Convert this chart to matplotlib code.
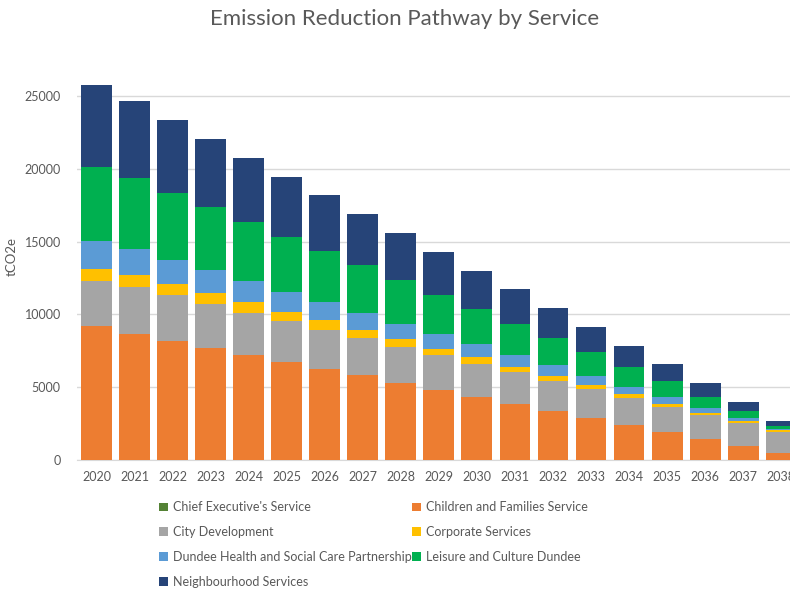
import matplotlib
matplotlib.use("Agg")
import matplotlib.pyplot as plt
import numpy as np

plt.rcParams['font.family'] = ['Lato', 'DejaVu Sans']

years = ['2020', '2021', '2022', '2023', '2024', '2025', '2026', '2027', '2028', '2029',
         '2030', '2031', '2032', '2033', '2034', '2035', '2036', '2037', '2038']

# segment sizes (tCO2e)
chief_exec = [0] * 19
children = [9180, 8680, 8170, 7690, 7230, 6750, 6250, 5810, 5290, 4810,
            4350, 3870, 3370, 2910, 2400, 1920, 1460, 960, 500]
city_dev = [3110, 3180, 3140, 3020, 2870, 2800, 2700, 2590, 2480, 2380,
            2260, 2200, 2080, 1950, 1860, 1720, 1630, 1560, 1440]
corporate = [850, 850, 750, 760, 730, 640, 640, 530, 530, 430,
             440, 320, 320, 290, 250, 230, 140, 140, 100]
dundee_hscp = [1880, 1780, 1680, 1580, 1460, 1370, 1280, 1170, 1050, 1060,
               890, 820, 730, 620, 520, 440, 340, 200, 110]
leisure = [5130, 4880, 4620, 4330, 4030, 3780, 3480, 3270, 3000, 2670,
           2430, 2150, 1900, 1630, 1380, 1100, 780, 510, 210]
neighbourhood = [5580, 5260, 4990, 4670, 4440, 4120, 3830, 3500, 3230, 2960,
                 2630, 2360, 2020, 1730, 1440, 1160, 940, 640, 340]

series = [
    ("Chief Executive's Service", chief_exec, '#548235'),
    ('Children and Families Service', children, '#ED7D31'),
    ('City Development', city_dev, '#A5A5A5'),
    ('Corporate Services', corporate, '#FFC000'),
    ('Dundee Health and Social Care Partnership', dundee_hscp, '#5B9BD5'),
    ('Leisure and Culture Dundee', leisure, '#00B050'),
    ('Neighbourhood Services', neighbourhood, '#264478'),
]

fig = plt.figure(figsize=(7.9, 5.89), dpi=100)
ax = fig.add_axes([0.098, 0.219, 0.915, 0.692])

x = np.arange(len(years))
bottom = np.zeros(len(years))
handles = {}
for name, vals, col in series:
    vals = np.array(vals, dtype=float)
    b = ax.bar(x, vals, 0.81, bottom=bottom, color=col, label=name, zorder=3)
    handles[name] = b
    bottom += vals

ax.set_xlim(-0.5, len(years) - 0.5)
ax.set_ylim(0, 28000)
ax.set_yticks([0, 5000, 10000, 15000, 20000, 25000])
ax.set_xticks(x)
ax.set_xticklabels(years)
ax.yaxis.grid(True, color='#D9D9D9', linewidth=1, zorder=0)
ax.tick_params(length=0, labelsize=9, colors='#595959')
ax.tick_params(axis='y', pad=12)
ax.tick_params(axis='x', pad=8)
for s in ['top', 'right', 'left']:
    ax.spines[s].set_visible(False)
ax.spines['bottom'].set_color('#D9D9D9')
ax.set_ylabel('tCO2e', fontsize=9.5, color='#595959')
ax.yaxis.set_label_coords(-0.082, 0.5)

fig.suptitle('Emission Reduction Pathway by Service', x=0.512, y=0.985,
             fontsize=16, color='#595959')

# legend is filled column-wise, so reorder to read row-wise like the original
order = ["Chief Executive's Service", 'City Development',
         'Dundee Health and Social Care Partnership', 'Neighbourhood Services',
         'Children and Families Service', 'Corporate Services',
         'Leisure and Culture Dundee']
leg = fig.legend([handles[n] for n in order], order, loc='upper left',
                 bbox_to_anchor=(148 / 790, 1 - 490 / 589), ncol=2, frameon=False,
                 fontsize=9, handlelength=0.7, handleheight=0.7,
                 handletextpad=0.4, columnspacing=0.05, labelspacing=1.03)
for t in leg.get_texts():
    t.set_color('#595959')

fig.savefig('out.png', dpi=100)
